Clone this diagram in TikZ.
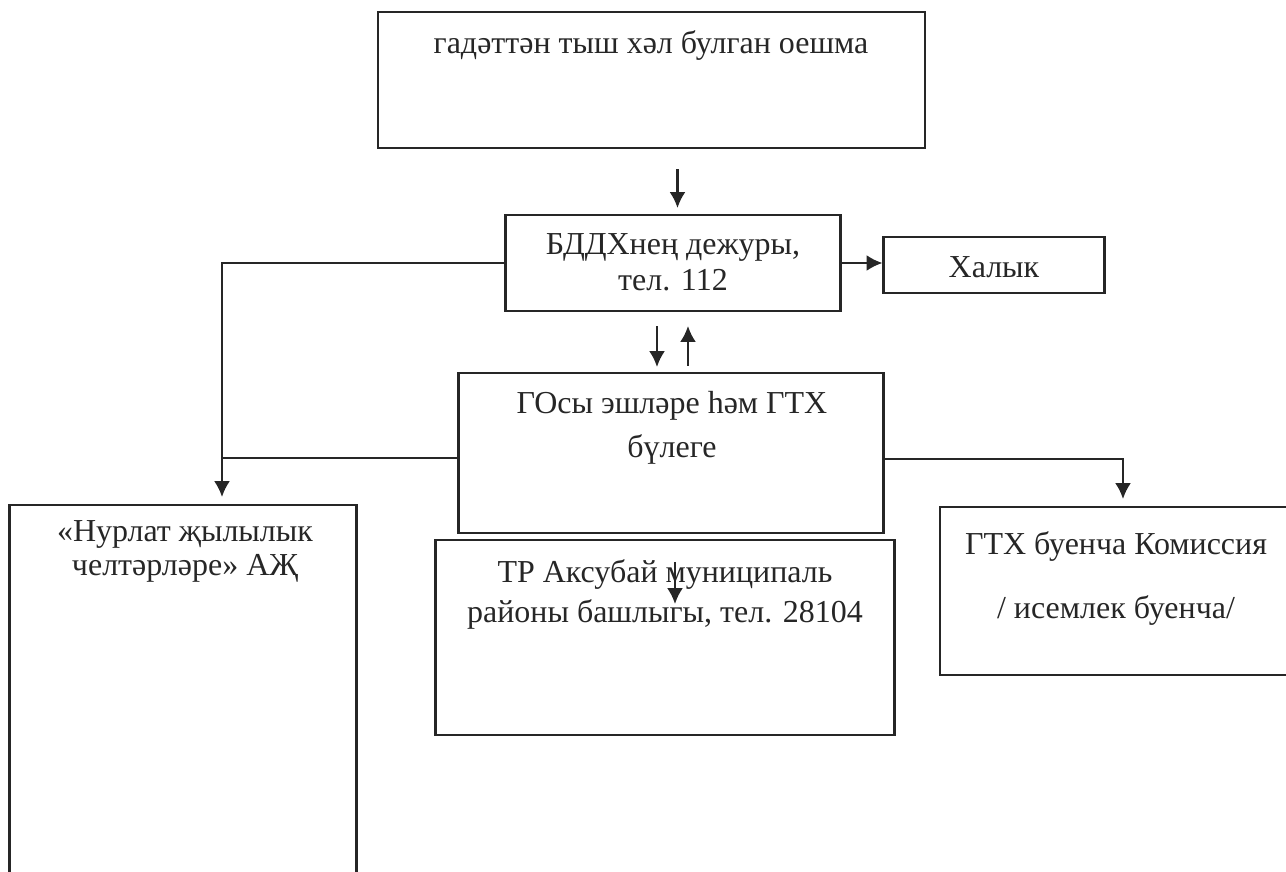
\documentclass[tikz,border=0pt]{standalone}
\usepackage{fontspec}
\setmainfont{Liberation Serif}
\usetikzlibrary{arrows.meta,positioning}

\begin{document}
\begin{tikzpicture}[
		x=0.02cm, y=-0.02cm,
		line width=1.2pt,
		draw=black!85,
		arrow/.style={-{Latex[length=9pt,width=9pt]}},
		block/.style={draw, inner sep=0pt},
		txt/.style={align=center, anchor=base, inner sep=0pt, text=black!85, font=\fontsize{18.2}{20}\selectfont},
	]
		\useasboundingbox (0,0) rectangle (1286,872);

		% boxes
		\node at (651.5,80) (top) [block, minimum width=10.94cm, minimum height=2.72cm] {};
		\node at (673,263) (duty) [block, minimum width=6.7cm, minimum height=1.92cm] {};
		\node at (994,265) (pop) [block, minimum width=4.42cm, minimum height=1.12cm] {};
		\node at (671,453) (civ) [block, minimum width=8.5cm, minimum height=3.2cm] {};
		\node at (183,695) (heat) [block, minimum width=6.94cm, minimum height=7.6cm] {};
		\node at (665,637.5) (head) [block, minimum width=9.18cm, minimum height=3.9cm] {};
		\node at (1116,591) (comm) [block, minimum width=7.04cm, minimum height=3.36cm] {};

		% texts (base = last line)
		\node at (651,53) (top-t) [txt] {гадәттән тыш хәл булган оешма};
		\node at (673,290) (duty-t) [txt] {БДДХнең дежуры,\\ тел. 112};
		\node at (994,277) (pop-t) [txt] {Халык};
		\node at (672,457) (civ-t) [txt] {ГОсы эшләре һәм ГТХ\\[0.16cm] бүлеге};
		\node at (185,575) (heat-t) [txt] {«Нурлат җылылык\\[-0.04cm] челтәрләре» АҖ};
		\node at (665,622) (head-t) [txt] {ТР Аксубай муниципаль\\[0.08cm] районы башлыгы, тел. 28104};
		\node at (1116,618) (comm-t) [txt] {ГТХ буенча Комиссия\\[0.56cm] / исемлек буенча/};

		\coordinate (hin) at ([xshift=0.78cm]heat.north);
		\coordinate (hd) at ([xshift=0.2cm,yshift=-0.46cm]head.north);

		% connectors
		\draw[arrow, shorten <=0.4cm, shorten >=0.12cm] ([xshift=0.52cm]top.south) -- ([xshift=0.52cm]top.south |- duty.north);
		\draw[arrow] (duty.east) -- (duty.east -| pop.west);
		\draw[arrow, shorten <=0.28cm, shorten >=0.1cm] ([xshift=-0.32cm]duty.south) -- ([xshift=-0.32cm]duty.south |- civ.north);
		\draw[arrow, shorten <=0.12cm, shorten >=0.28cm] ([xshift=0.3cm]duty.south |- civ.north) -- ([xshift=0.3cm]duty.south);
		\draw[arrow, shorten >=0.14cm] (duty.west) -| (hin);
		\draw ([yshift=-0.1cm]civ.west) -- ([yshift=-0.1cm]civ.west -| hin);
		\draw[arrow, shorten >=0.14cm] ([yshift=-0.12cm]civ.east) -| ([xshift=0.14cm]comm.north);
		\draw[arrow] (hd) -- +(0,42);
	\end{tikzpicture}
\end{document}
